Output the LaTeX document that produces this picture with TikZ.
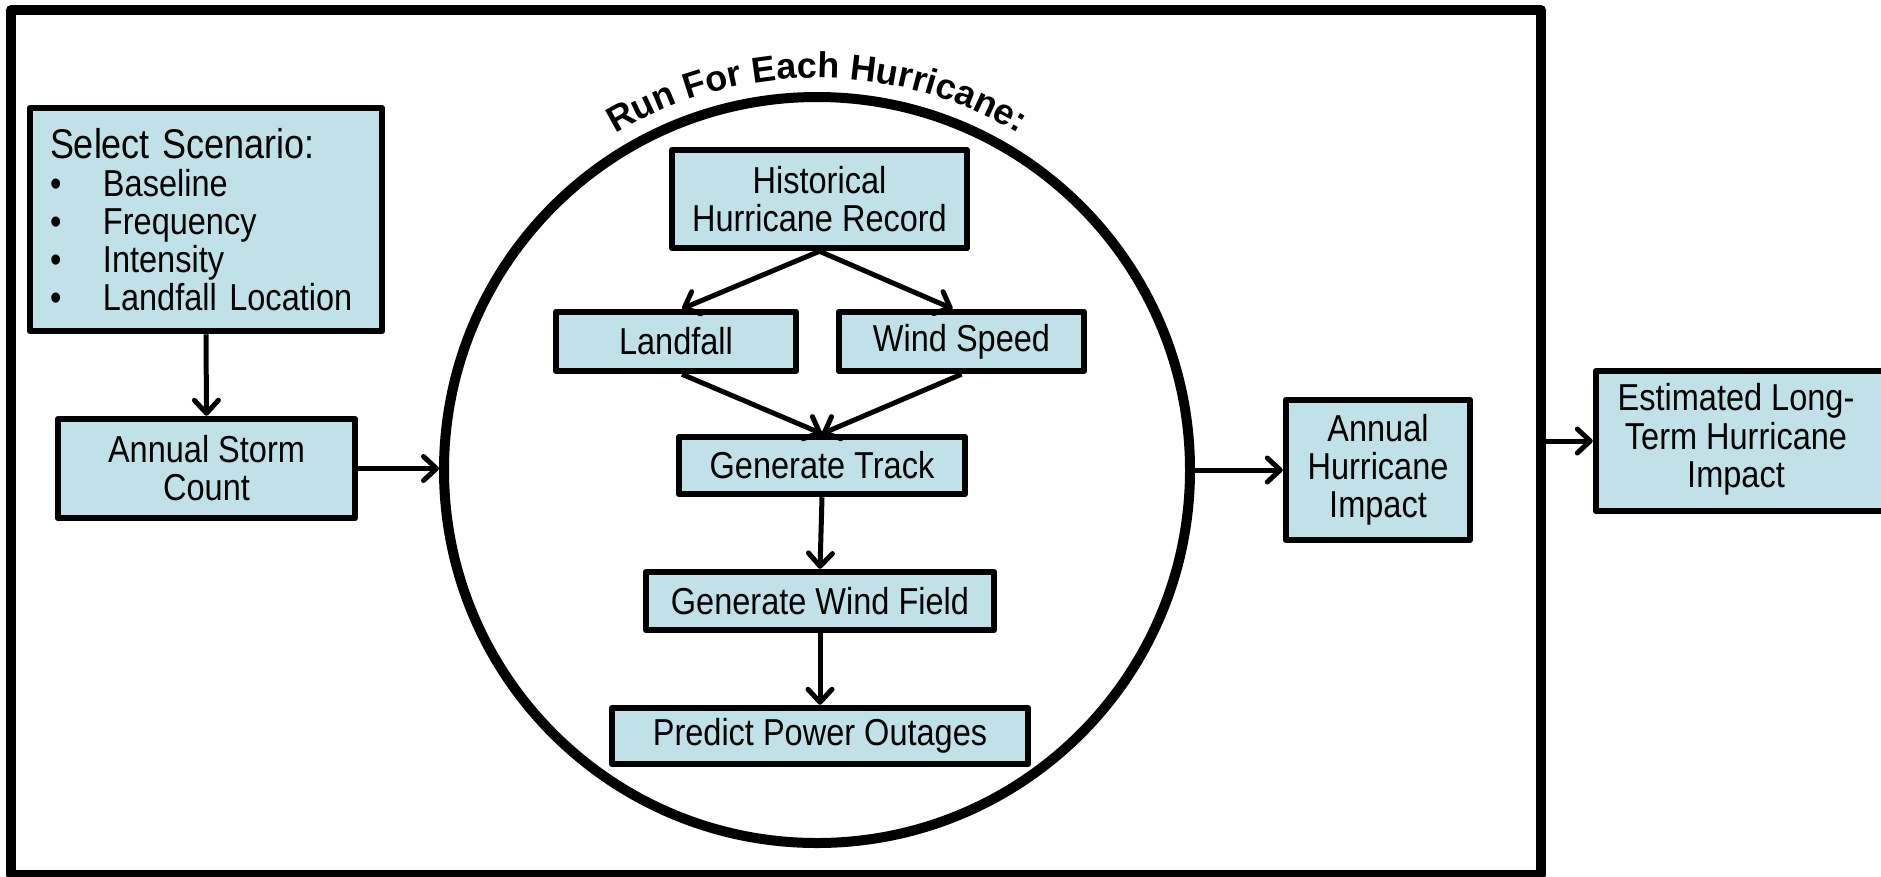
\documentclass[tikz,border=0pt]{standalone}
\usepackage{fontspec}
\setmainfont{Liberation Sans}[FakeStretch=0.867]
\newfontfamily\arcfamily{Liberation Sans}
\usetikzlibrary{arrows.meta,decorations.text}
\definecolor{boxblue}{RGB}{192,225,231}
\newcommand\arctitlefont{\arcfamily\fontsize{36}{36}\selectfont\bfseries}
\begin{document}
\begin{tikzpicture}[x=1pt,y=1pt,
  stepbox/.style={draw, fill=boxblue, line width=6.5pt, line join=round,
    inner sep=0pt, align=center, font=\fontsize{37.5}{38}\selectfont},
  flow/.style={line width=5pt, -{Straight Barb[length=13pt,width=24pt,round]}}
]
\useasboundingbox (0,0) rectangle (1881,-876);

% outer frame and the per-hurricane loop
\node[draw, line width=10pt, line join=round, minimum width=1530pt,
      minimum height=865pt, inner sep=0pt] (frame) at (776,-442.5) {};
\node[draw, circle, line width=10pt, minimum size=746pt, inner sep=0pt]
      (loop) at (817,-470) {};
\path[decorate, decoration={text along path, text align=center,
      text={|\arctitlefont|Run For Each Hurricane:}}]
  ([shift={(150:392)}]loop.center) arc[start angle=150, end angle=30, radius=392];

% scenario selection
\node[stepbox, minimum width=352pt, minimum height=223pt, text width=312pt,
      align=left] (sel) at (206,-219.5)
  {{\fontsize{41.5}{38}\selectfont Select Scenario:}\\
   \makebox[53pt][l]{\textbullet}Baseline\\
   \makebox[53pt][l]{\textbullet}Frequency\\
   \makebox[53pt][l]{\textbullet}Intensity\\
   \makebox[53pt][l]{\textbullet}Landfall Location};
\node[stepbox, minimum width=297pt, minimum height=99pt] (storm) at (206.5,-468.5)
  {Annual Storm\\Count};

% steps inside the loop
\node[stepbox, minimum width=295pt, minimum height=98pt] (hist) at (819.5,-199)
  {Historical\\Hurricane Record};
\node[stepbox, minimum width=240pt, minimum height=59pt] (land) at (676,-341.5)
  {Landfall};
\node[stepbox, minimum width=245pt, minimum height=59pt] (wind) at (961.5,-341.5)
  {Wind Speed};
\node[stepbox, minimum width=286pt, minimum height=57pt] (track) at (822,-465.5)
  {Generate Track};
\node[stepbox, minimum width=348pt, minimum height=58pt] (field) at (820,-601)
  {Generate Wind Field};
\node[stepbox, minimum width=416pt, minimum height=56pt] (power) at (820,-736)
  {Predict Power Outages};

% results
\node[stepbox, minimum width=184pt, minimum height=140pt] (annual) at (1378,-470)
  {Annual\\Hurricane\\Impact};
\node[stepbox, minimum width=310pt, minimum height=140pt] (est) at (1751,-441)
  {\begin{tabular}{@{}c@{}}Estimated Long-\\Term Hurricane\\Impact\end{tabular}\hspace{30pt}};

% connectors
\draw[flow] (sel.south) -- (storm.north);
\draw[flow] (storm.east) -- (storm.east -| loop.west);
\draw[flow] (hist.south) -- ([xshift=6pt]land.north);
\draw[flow] (hist.south) -- ([xshift=-9pt]wind.north);
\draw[flow] ([xshift=6pt]land.south) -- (track.north);
\draw[flow] (wind.south) -- (track.north);
\draw[flow] (track.south) -- (field.north);
\draw[flow] (field.south) -- (power.north);
\draw[flow] (annual.west -| loop.east) -- (annual.west);
\draw[flow] (est.west -| frame.east) -- (est.west);
\end{tikzpicture}
\end{document}
